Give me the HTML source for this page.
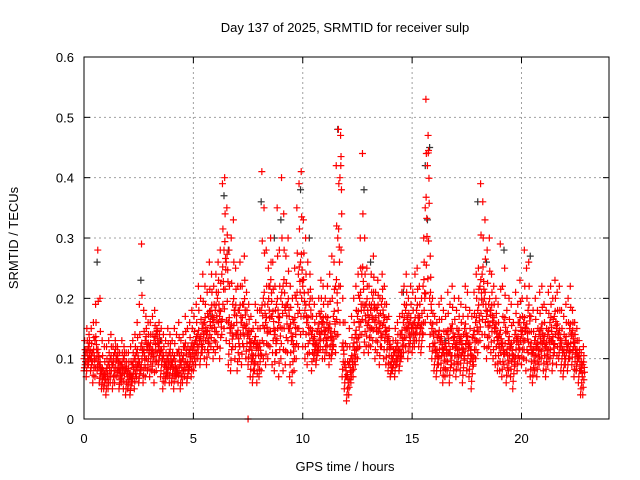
<!DOCTYPE html>
<html><head><meta charset="utf-8"><style>
body{margin:0;background:#fff}
svg{display:block;font-family:"Liberation Sans",sans-serif}
</style></head><body>
<svg id="chart" width="640" height="480" viewBox="0 0 640 480" xmlns="http://www.w3.org/2000/svg">
<rect width="640" height="480" fill="#fff"/>
<text x="345" y="32" font-size="13" text-anchor="middle">Day 137 of 2025, SRMTID for receiver sulp</text>
<text x="345" y="471" font-size="13" text-anchor="middle">GPS time / hours</text>
<text transform="translate(18,238) rotate(-90)" font-size="13" text-anchor="middle">SRMTID / TECUs</text>
<g id="grid"></g><g id="ticks"></g><g id="marks"></g>
<rect x="84" y="57" width="525" height="362" fill="none" stroke="#000" stroke-width="1"/>
</svg>
<script>
const xTicks=[0,5,10,15,20];
const yTicks=[0,0.1,0.2,0.3,0.4,0.5,0.6];
const yTickLabels=["0","0.1","0.2","0.3","0.4","0.5","0.6"];
const tStep=0.1;
const loVals=[.08,.07,.09,.08,.06,.07,.08,.06,.05,.05,
.04,.05,.06,.05,.06,.07,.05,.06,.05,.04,
.05,.04,.06,.05,.07,.06,.08,.06,.07,.08,
.07,.08,.06,.08,.09,.07,.05,.06,.07,.06,
.06,.05,.07,.06,.05,.06,.07,.06,.08,.07,
.08,.09,.10,.09,.11,.10,.09,.11,.12,.10,
.11,.12,.10,.14,.15,.13,.09,.08,.12,.10,
.08,.10,.09,.12,.10,.09,.07,.06,.08,.06,
.07,.08,.10,.09,.10,.12,.09,.08,.11,.07,
.10,.08,.09,.11,.07,.06,.08,.10,.12,.14,
.12,.10,.09,.11,.08,.10,.09,.11,.12,.10,
.10,.11,.09,.10,.12,.11,.14,.16,.07,.05,
.03,.04,.06,.07,.09,.10,.12,.14,.11,.12,
.11,.12,.13,.10,.11,.09,.12,.10,.09,.08,
.07,.08,.07,.09,.08,.10,.11,.12,.10,.12,
.11,.12,.13,.12,.11,.14,.16,.17,.12,.10,
.08,.07,.09,.08,.06,.07,.08,.06,.09,.08,
.07,.09,.08,.06,.10,.08,.07,.05,.09,.10,
.11,.13,.14,.12,.10,.12,.11,.10,.09,.08,
.08,.07,.09,.06,.08,.07,.05,.09,.08,.10,
.09,.10,.08,.11,.07,.06,.08,.07,.09,.10,
.08,.07,.09,.10,.08,.11,.09,.10,.08,.07,
.09,.08,.10,.09,.07,.08,.06,.04,.04];
const midVals=[.10,.11,.12,.10,.11,.13,.11,.09,.08,.07,
.08,.09,.10,.09,.11,.10,.08,.09,.10,.08,
.08,.07,.09,.10,.11,.09,.12,.11,.13,.12,
.12,.11,.13,.14,.12,.11,.10,.09,.10,.11,
.09,.10,.08,.11,.09,.10,.12,.09,.11,.12,
.12,.13,.14,.13,.15,.16,.14,.17,.18,.16,
.18,.20,.17,.24,.28,.26,.16,.15,.19,.18,
.14,.18,.16,.19,.15,.14,.12,.10,.13,.12,
.12,.18,.20,.16,.19,.22,.17,.14,.19,.16,
.20,.22,.18,.19,.15,.13,.16,.20,.24,.26,
.22,.18,.16,.19,.14,.13,.12,.15,.17,.16,
.14,.16,.15,.13,.17,.22,.30,.40,.12,.09,
.07,.09,.10,.12,.14,.17,.20,.24,.18,.19,
.16,.18,.20,.16,.18,.15,.19,.16,.14,.13,
.09,.10,.11,.12,.11,.14,.16,.18,.15,.16,
.15,.16,.18,.16,.15,.22,.35,.42,.20,.15,
.12,.11,.14,.13,.11,.12,.14,.11,.15,.13,
.12,.14,.13,.11,.15,.13,.12,.10,.14,.16,
.18,.22,.24,.20,.17,.19,.18,.16,.15,.13,
.14,.12,.16,.11,.13,.12,.10,.14,.13,.16,
.14,.16,.15,.18,.12,.11,.13,.12,.14,.15,
.13,.12,.14,.16,.13,.17,.15,.14,.12,.11,
.13,.12,.15,.14,.12,.11,.10,.08,.09];
const hiVals=[.13,.15,.14,.15,.16,.19,.28,.20,.13,.12,
.12,.13,.14,.12,.13,.12,.11,.13,.12,.11,
.11,.12,.13,.14,.16,.19,.29,.18,.17,.16,
.16,.17,.18,.15,.16,.15,.14,.13,.15,.14,
.13,.15,.14,.16,.13,.14,.17,.15,.16,.18,
.17,.19,.22,.20,.24,.22,.21,.26,.24,.22,
.24,.26,.28,.39,.40,.35,.28,.30,.33,.25,
.22,.26,.22,.27,.21,.19,.17,.15,.19,.18,
.18,.41,.35,.28,.25,.30,.26,.22,.35,.28,
.40,.34,.27,.30,.22,.20,.25,.35,.39,.41,
.33,.30,.26,.24,.20,.19,.17,.20,.23,.22,
.20,.22,.24,.27,.26,.42,.48,.47,.20,.16,
.12,.15,.17,.20,.22,.24,.30,.44,.30,.25,
.22,.24,.27,.21,.23,.20,.24,.22,.19,.17,
.12,.13,.15,.16,.17,.21,.22,.24,.20,.22,
.21,.24,.25,.22,.20,.30,.53,.47,.27,.20,
.17,.16,.19,.20,.18,.17,.21,.19,.22,.20,
.18,.20,.19,.17,.22,.21,.18,.17,.21,.24,
.25,.39,.36,.33,.28,.30,.24,.22,.20,.19,
.29,.22,.25,.18,.20,.19,.16,.21,.19,.23,
.20,.28,.25,.26,.17,.18,.20,.18,.21,.22,
.19,.18,.21,.22,.20,.23,.21,.22,.18,.17,
.19,.20,.22,.18,.16,.15,.13,.11,.12];
const blackTimes=[0.6,2.6,6.4,6.6,8.1,8.7,9.0,9.9,10.3,11.6,12.8,13.1,15.6,15.7,15.8,18.0,18.4,19.2,20.4,22.5,3.5,5.8,14.6,16.5];
const blackVals=[0.26,0.23,0.37,0.28,0.36,0.30,0.33,0.38,0.30,0.48,0.38,0.26,0.42,0.33,0.45,0.36,0.26,0.28,0.27,0.08,0.13,0.17,0.21,0.13];
const zeroTimes=[7.5];
const zeroVals=[0];

const NS="http://www.w3.org/2000/svg";
const L=84,R=609,T=57,B=419,XMAX=24,YMAX=0.6;
const xs=v=>L+(v/XMAX)*(R-L);
const ys=v=>B-(v/YMAX)*(B-T);
const grid=document.getElementById('grid'),ticks=document.getElementById('ticks'),marks=document.getElementById('marks');
function ln(p,x1,y1,x2,y2,st,dash){const e=document.createElementNS(NS,'line');e.setAttribute('x1',x1);e.setAttribute('y1',y1);e.setAttribute('x2',x2);e.setAttribute('y2',y2);e.setAttribute('stroke',st);if(dash)e.setAttribute('stroke-dasharray',dash);p.appendChild(e);return e;}
function tx(p,x,y,s,anchor){const e=document.createElementNS(NS,'text');e.setAttribute('x',x);e.setAttribute('y',y);e.setAttribute('font-size','13');e.setAttribute('text-anchor',anchor);e.textContent=s;p.appendChild(e);return e;}
yTicks.forEach((v,i)=>{const y=ys(v);
 if(i>0&&i<yTicks.length-1){const g=ln(grid,L,y,R,y,'#a0a0a0','2,3');
 
 }
 ln(ticks,L,y,L+6,y,'#000');ln(ticks,R,y,R-6,y,'#000');
 const t=tx(ticks,L-10,y+5,yTickLabels[i],'end');
 
 });
xTicks.forEach((v,i)=>{const x=xs(v);
 if(i>0){const g=ln(grid,x,T,x,B,'#a0a0a0','2,3');
 
 }
 ln(ticks,x,B,x,B-6,'#000');ln(ticks,x,T,x,T+6,'#000');
 const t=tx(ticks,x,B+24,String(v),'middle');
 
 });
function plus(t,v,col){const x=xs(t),y=ys(v);const p=document.createElementNS(NS,'path');
 p.setAttribute('d',`M${x-3.5} ${y}H${x+3.5}M${x} ${y-3.5}V${y+3.5}`);p.setAttribute('stroke',col);p.setAttribute('stroke-width','1.2');p.setAttribute('fill','none');
 
 
 marks.appendChild(p);}
blackTimes.forEach((t,i)=>plus(t,blackVals[i],'#333'));
midVals.forEach((m,i)=>{const t=i*tStep,lo=loVals[i],hi=hiVals[i];
 plus(t,lo,'#f00');plus(t+0.05,(lo+m)/2,'#f00');plus(t+0.02,(lo*3+m)/4,'#f00');plus(t,m,'#f00');plus(t+0.08,(lo+m*3)/4,'#f00');
 plus(t+0.05,(m+hi)/2,'#f00');plus(t+0.03,hi,'#f00');
 plus(t+0.07,m*0.95,'#f00');plus(t+0.04,m*1.05,'#f00');});
zeroTimes.forEach((t,i)=>plus(t,zeroVals[i],'#f00'));
</script>
</body></html>
